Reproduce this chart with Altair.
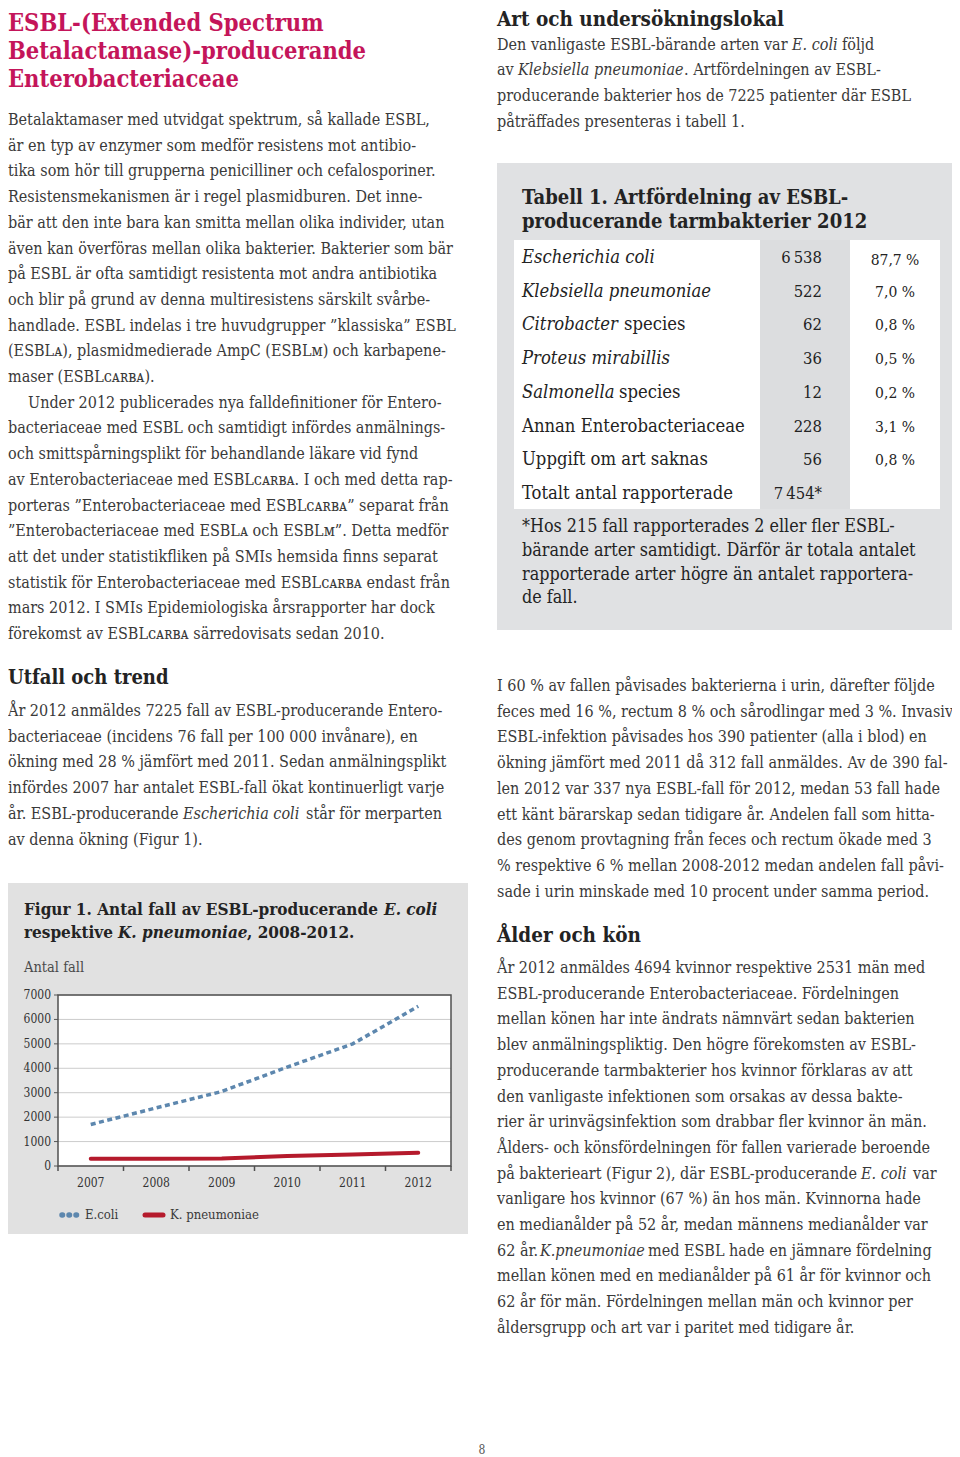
import altair as alt
import pandas as pd

# ------------------------------------------------------------------ data
years = ["2007", "2008", "2009", "2010", "2011", "2012"]
ecoli = [1700, 2380, 3050, 4050, 5000, 6540]
kpneumoniae = [300, 300, 310, 410, 470, 545]
y_ticks = [0, 1000, 2000, 3000, 4000, 5000, 6000, 7000]
series_names = ["E.coli", "K. pneumoniae"]

species = ["Escherichia coli", "Klebsiella pneumoniae", "Citrobacter species",
           "Proteus mirabillis", "Salmonella species", "Annan Enterobacteriaceae",
           "Uppgift om art saknas", "Totalt antal rapporterade"]
species_italic = ["Escherichia coli", "Klebsiella pneumoniae", "Citrobacter",
                  "Proteus mirabillis", "Salmonella", "", "", ""]
counts = ["6\u2009538", "522", "62", "36", "12", "228", "56", "7\u2009454*"]
shares = ["87,7 %", "7,0 %", "0,8 %", "0,5 %", "0,2 %", "3,1 %", "0,8 %", ""]

title_lines = ["ESBL-(Extended Spectrum", "Betalactamase)-producerande", "Enterobacteriaceae"]

left_p1 = [
    "Betalaktamaser med utvidgat spektrum, så kallade ESBL,",
    "är en typ av enzymer som medför resistens mot antibio-",
    "tika som hör till grupperna penicilliner och cefalosporiner.",
    "Resistensmekanismen är i regel plasmidburen. Det inne-",
    "bär att den inte bara kan smitta mellan olika individer, utan",
    "även kan överföras mellan olika bakterier. Bakterier som bär",
    "på ESBL är ofta samtidigt resistenta mot andra antibiotika",
    "och blir på grund av denna multiresistens särskilt svårbe-",
    "handlade. ESBL indelas i tre huvudgrupper ”klassiska” ESBL",
    "(ESBLᴀ), plasmidmedierade AmpC (ESBLᴍ) och karbapene-",
    "maser (ESBLᴄᴀʀʙᴀ).",
    "Under 2012 publicerades nya falldefinitioner för Entero-",
    "bacteriaceae med ESBL och samtidigt infördes anmälnings-",
    "och smittspårningsplikt för behandlande läkare vid fynd",
    "av Enterobacteriaceae med ESBLᴄᴀʀʙᴀ. I och med detta rap-",
    "porteras ”Enterobacteriaceae med ESBLᴄᴀʀʙᴀ” separat från",
    "”Enterobacteriaceae med ESBLᴀ och ESBLᴍ”. Detta medför",
    "att det under statistikfliken på SMIs hemsida finns separat",
    "statistik för Enterobacteriaceae med ESBLᴄᴀʀʙᴀ endast från",
    "mars 2012. I SMIs Epidemiologiska årsrapporter har dock",
    "förekomst av ESBLᴄᴀʀʙᴀ särredovisats sedan 2010.",
]
left_h2 = "Utfall och trend"
left_p2 = [
    "År 2012 anmäldes 7225 fall av ESBL-producerande Entero-",
    "bacteriaceae (incidens 76 fall per 100 000 invånare), en",
    "ökning med 28 % jämfört med 2011. Sedan anmälningsplikt",
    "infördes 2007 har antalet ESBL-fall ökat kontinuerligt varje",
    [("år. ESBL-producerande", "normal", 8), ("Escherichia coli", "italic", 183),
     ("står för merparten", "normal", 306)],
    "av denna ökning (Figur 1).",
]
right_h1 = "Art och undersökningslokal"
right_p1 = [
    [("Den vanligaste ESBL-bärande arten var", "normal", 497), ("E. coli", "italic", 792),
     ("följd", "normal", 842)],
    [("av", "normal", 497), ("Klebsiella pneumoniae", "italic", 518),
     (". Artfördelningen av ESBL-", "normal", 684)],
    "producerande bakterier hos de 7225 patienter där ESBL",
    "påträffades presenteras i tabell 1.",
]
table_title = ["Tabell 1. Artfördelning av ESBL-", "producerande tarmbakterier 2012"]
footnote = [
    "*Hos 215 fall rapporterades 2 eller fler ESBL-",
    "bärande arter samtidigt. Därför är totala antalet",
    "rapporterade arter högre än antalet rapportera-",
    "de fall.",
]
right_p2 = [
    "I 60 % av fallen påvisades bakterierna i urin, därefter följde",
    "feces med 16 %, rectum 8 % och sårodlingar med 3 %. Invasiv",
    "ESBL-infektion påvisades hos 390 patienter (alla i blod) en",
    "ökning jämfört med 2011 då 312 fall anmäldes. Av de 390 fal-",
    "len 2012 var 337 nya ESBL-fall för 2012, medan 53 fall hade",
    "ett känt bärarskap sedan tidigare år. Andelen fall som hitta-",
    "des genom provtagning från feces och rectum ökade med 3",
    "% respektive 6 % mellan 2008-2012 medan andelen fall påvi-",
    "sade i urin minskade med 10 procent under samma period.",
]
right_h3 = "Ålder och kön"
right_p3 = [
    "År 2012 anmäldes 4694 kvinnor respektive 2531 män med",
    "ESBL-producerande Enterobacteriaceae. Fördelningen",
    "mellan könen har inte ändrats nämnvärt sedan bakterien",
    "blev anmälningspliktig. Den högre förekomsten av ESBL-",
    "producerande tarmbakterier hos kvinnor förklaras av att",
    "den vanligaste infektionen som orsakas av dessa bakte-",
    "rier är urinvägsinfektion som drabbar fler kvinnor än män.",
    "Ålders- och könsfördelningen för fallen varierade beroende",
    [("på bakterieart (Figur 2), där ESBL-producerande", "normal", 497),
     ("E. coli", "italic", 861), ("var", "normal", 913)],
    "vanligare hos kvinnor (67 %) än hos män. Kvinnorna hade",
    "en medianålder på 52 år, medan männens medianålder var",
    [("62 år.", "normal", 497), ("K.pneumoniae", "italic", 540),
     ("med ESBL hade en jämnare fördelning", "normal", 648)],
    "mellan könen med en medianålder på 61 år för kvinnor och",
    "62 år för män. Fördelningen mellan män och kvinnor per",
    "åldersgrupp och art var i paritet med tidigare år.",
]
fig_title = [
    [("Figur 1. Antal fall av ESBL-producerande", "normal", 24), ("E. coli", "italic", 384)],
    [("respektive", "normal", 24), ("K. pneumoniae", "italic", 118), (", 2008-2012.", "normal", 247)],
]
y_axis_title = "Antal fall"
page_number = "8"

# ------------------------------------------------------------------ style / layout
O = 8                       # page margin
W, H = 944, 1449


def P(v):
    return v - O


SERIF = "'DejaVu Serif Condensed', 'DejaVu Serif', serif"
BODY_C = "#3a3a3a"
HEAD_C = "#232323"
CRIMSON = "#c4155a"
BLUE = "#5d87ae"
RED = "#b51a2c"
BODY_S = 16
PITCH = 25.7

rows = []


def add(x, y, t, size=BODY_S, weight="normal", style="normal", color=BODY_C, align="left"):
    rows.append(dict(x=P(x), y=P(y), t=t, size=size, weight=weight, style=style,
                     color=color, align=align))


def para(lines, x0, y0, pitch=PITCH, **kw):
    for i, line in enumerate(lines):
        y = y0 + i * pitch
        if isinstance(line, str):
            add(x0, y, line, **kw)
        else:
            for text, st, xs in line:
                add(xs, y, text, style=st, **kw)


# title
para(title_lines, 8, 23.5, pitch=28, size=23.5, weight="bold", color=CRIMSON)
# left column
para(left_p1[:11], 8, 120)
add(28, 120 + 11 * PITCH, left_p1[11])
para(left_p1[12:], 8, 120 + 12 * PITCH)
add(8, 678, left_h2, size=20, weight="bold", color=HEAD_C)
para(left_p2, 8, 711)
# right column
add(497, 19.5, right_h1, size=20.5, weight="bold", color=HEAD_C)
para(right_p1, 497, 44.5)
para(table_title, 522, 198, pitch=24, size=20, weight="bold", color=HEAD_C)
rest_x = [0, 0, 624, 0, 619, 0, 0, 0]
for i in range(len(species)):
    y = 258 + i * 33.7
    it = species_italic[i]
    rest = species[i][len(it):].strip()
    if it:
        add(522, y, it, size=18.3, style="italic", color=HEAD_C)
        if rest:
            add(rest_x[i], y, rest, size=18.3, color=HEAD_C)
    else:
        add(522, y, species[i], size=18.3, color=HEAD_C)
    add(822, y, counts[i], size=16.5, color=HEAD_C, align="right")
    if shares[i]:
        add(895, y + (2 if i == 0 else 0), shares[i], size=15.5, color=HEAD_C, align="center")
para(footnote, 522, 527, pitch=23.8, size=17.8, color=HEAD_C)
para(right_p2, 497, 686)
add(497, 936, right_h3, size=20.5, weight="bold", color=HEAD_C)
para(right_p3, 497, 968)
# figure texts
for i, line in enumerate(fig_title):
    for text, st, xs in line:
        add(xs, 910 + i * 23, text, size=17, weight="bold", style=st, color=HEAD_C)
add(24, 968, y_axis_title, size=14.5, color="#4a4a4a")
add(85, 1215, series_names[0], size=13, color="#3a3a3a")
add(170, 1215, series_names[1], size=13, color="#3a3a3a")
add(482, 1450, page_number, size=12, color="#555555", align="center")

text_df = pd.DataFrame(rows)

rects = pd.DataFrame([
    dict(x=P(7), x2=P(468), y=P(883), y2=P(1234), fill="#e1e1e1"),
    dict(x=P(497), x2=P(957), y=P(163), y2=P(630), fill="#e0e1e3"),
    dict(x=P(514), x2=P(760), y=P(240), y2=P(509), fill="#ffffff"),
    dict(x=P(760), x2=P(850), y=P(240), y2=P(509), fill="#dcdddf"),
    dict(x=P(850), x2=P(940), y=P(240), y2=P(509), fill="#ffffff"),
])

layers = []
layers.append(
    alt.Chart(rects).mark_rect().encode(
        x=alt.X("x:Q", scale=None, axis=None), x2="x2:Q",
        y=alt.Y("y:Q", scale=None, axis=None), y2="y2:Q",
        color=alt.Color("fill:N", scale=None, legend=None),
    )
)

# ---------------------------------------------------------------- line chart
PL, PR, PT, PB = P(58), P(451), P(995), P(1166)
xs = alt.Scale(type="point", domain=years, range=[PL, PR], padding=0.5)
xb = alt.Scale(type="band", domain=years, range=[PL, PR], paddingInner=0, paddingOuter=0)
ys = alt.Scale(domain=[0, 7000], range=[PB, PT], nice=False, zero=False)

frame = pd.DataFrame({"x": [PL], "x2": [PR], "y": [PT], "y2": [PB]})
layers.append(
    alt.Chart(frame).mark_rect(fill="white").encode(
        x=alt.X("x:Q", scale=None, axis=None), x2="x2:Q",
        y=alt.Y("y:Q", scale=None, axis=None), y2="y2:Q")
)
grid_df = pd.DataFrame({"v": y_ticks, "label": [str(v) for v in y_ticks]})
layers.append(
    alt.Chart(grid_df).mark_rule(color="#cccccc", strokeWidth=1).encode(
        y=alt.Y("v:Q", scale=ys, axis=None), x=alt.value(PL), x2=alt.value(PR))
)
layers.append(
    alt.Chart(grid_df).mark_rule(color="#555555", strokeWidth=1).encode(
        y=alt.Y("v:Q", scale=ys, axis=None), x=alt.value(PL - 4), x2=alt.value(PL))
)
layers.append(
    alt.Chart(grid_df).mark_text(align="right", baseline="middle", fontSize=12,
                                 font=SERIF, color="#333333").encode(
        y=alt.Y("v:Q", scale=ys, axis=None), x=alt.value(PL - 7), text="label:N")
)
layers.append(
    alt.Chart(frame).mark_rect(fill=None, stroke="#505050", strokeWidth=1.5).encode(
        x=alt.X("x:Q", scale=None, axis=None), x2="x2:Q",
        y=alt.Y("y:Q", scale=None, axis=None), y2="y2:Q")
)
yr_df = pd.DataFrame({"year": years})
layers.append(
    alt.Chart(yr_df).mark_rule(color="#505050", strokeWidth=1.5).encode(
        x=alt.X("year:O", scale=xb, axis=None, bandPosition=0),
        y=alt.value(PB), y2=alt.value(PB + 5))
)
layers.append(
    alt.Chart(yr_df.tail(1)).mark_rule(color="#505050", strokeWidth=1.5).encode(
        x=alt.X("year:O", scale=xb, axis=None, bandPosition=1),
        y=alt.value(PB), y2=alt.value(PB + 5))
)
layers.append(
    alt.Chart(yr_df).mark_text(baseline="middle", fontSize=12, font=SERIF,
                               color="#333333").encode(
        x=alt.X("year:O", scale=xs, axis=None), y=alt.value(P(1183)), text="year:N")
)
line_df = pd.DataFrame({
    "year": years * 2,
    "value": ecoli + kpneumoniae,
    "series": [series_names[0]] * len(years) + [series_names[1]] * len(years),
})
layers.append(
    alt.Chart(line_df[line_df.series == series_names[1]]).mark_line(
        color=RED, strokeWidth=4, strokeCap="round").encode(
        x=alt.X("year:O", scale=xs, axis=None, sort=years),
        y=alt.Y("value:Q", scale=ys, axis=None))
)
layers.append(
    alt.Chart(line_df[line_df.series == series_names[0]]).mark_line(
        color=BLUE, strokeWidth=3.5, strokeDash=[5, 3.5]).encode(
        x=alt.X("year:O", scale=xs, axis=None, sort=years),
        y=alt.Y("value:Q", scale=ys, axis=None))
)
# legend symbols
leg_df = pd.DataFrame({"series": series_names})
layers.append(
    alt.Chart(leg_df.head(1)).mark_rule(color=BLUE, strokeWidth=5.5, strokeDash=[0.5, 6.5],
                                        strokeCap="round").encode(
        x=alt.value(P(62)), x2=alt.value(P(82)), y=alt.value(P(1215)))
)
layers.append(
    alt.Chart(leg_df.tail(1)).mark_rule(color=RED, strokeWidth=5, strokeCap="round").encode(
        x=alt.value(P(145)), x2=alt.value(P(163)), y=alt.value(P(1215)))
)

# ---------------------------------------------------------------- text layers
keys = ["size", "weight", "style", "color", "align"]
for k, g in text_df.groupby(keys, sort=False):
    size, weight, style, color, align = k
    layers.append(
        alt.Chart(g[["x", "y", "t"]]).mark_text(
            align=align, baseline="middle", fontSize=float(size), fontWeight=weight,
            fontStyle=style, color=color, font=SERIF).encode(
            x=alt.X("x:Q", scale=None, axis=None),
            y=alt.Y("y:Q", scale=None, axis=None),
            text="t:N")
    )

chart = alt.layer(*layers).resolve_scale(
    x="independent", y="independent", color="independent"
).properties(
    width=W, height=H, padding=0, autosize=alt.AutoSizeParams(type="none"),
    background="white",
).configure_view(stroke=None)

chart.save("out.html", embed_options={"renderer": "svg", "actions": False})
